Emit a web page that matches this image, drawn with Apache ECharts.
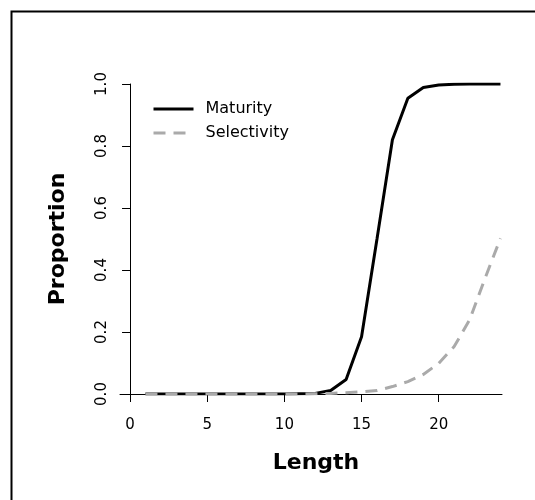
<!DOCTYPE html>
<html>
<head>
<meta charset="utf-8">
<script src="https://cdn.jsdelivr.net/npm/echarts@6/dist/echarts.min.js"></script>
<style>
html,body{margin:0;padding:0;background:#fff;}
#c{width:535px;height:500px;}
</style>
</head>
<body>
<div id="c"></div>
<script>
const lengths = [1,2,3,4,5,6,7,8,9,10,11,12,13,14,15,16,17,18,19,20,21,22,23,24];
const maturity = [0,0,0,0,0,0,0,0,0,0,0.001,0.002,0.011,0.047,0.185,0.5,0.82,0.954,0.989,0.997,0.999,1,1,1];
const selectivity = [0,0,0,0,0,0,0,0,0,0,0,0.001,0.002,0.004,0.007,0.011,0.024,0.04,0.063,0.099,0.153,0.239,0.373,0.502];
const xTicks = [0,5,10,15,20];
const yTicks = [0,0.2,0.4,0.6,0.8,1.0];

const FONT = 'DejaVu Sans';
const chart = echarts.init(document.getElementById('c'), null, {renderer:'canvas'});
chart.setOption({
  animation:false,
  backgroundColor:'#fff',
  textStyle:{fontFamily:FONT},
  graphic:[{type:'rect', left:9, top:9, shape:{width:1000,height:1000}, style:{fill:'none', stroke:'#000', lineWidth:2}, silent:true}],
  grid:{left:120, right:33, top:84, bottom:106, containLabel:false},
  legend:{
    orient:'vertical', left:147, top:96, itemWidth:40, itemHeight:16, itemGap:8,
    itemStyle:{opacity:0},
    lineStyle:{width:3},
    textStyle:{fontFamily:FONT, fontSize:16, color:'#000', padding:[0,0,0,7]},
    data:['Maturity','Selectivity']
  },
  xAxis:{
    type:'value', min:-0.65, max:24.1,
    axisLine:{onZero:false, lineStyle:{color:'#000', width:1}},
    axisTick:{show:true, customValues:xTicks, length:8, lineStyle:{color:'#000'}},
    axisLabel:{customValues:xTicks, margin:24, fontSize:15, color:'#000', fontFamily:FONT},
    splitLine:{show:false},
    name:'Length', nameLocation:'middle', nameGap:58,
    nameTextStyle:{fontSize:22, fontWeight:'bold', color:'#000', fontFamily:FONT, padding:[0,0,0,10]}
  },
  yAxis:{
    type:'value', min:0, max:1,
    axisLine:{show:true, onZero:true, lineStyle:{color:'#000', width:1}},
    axisTick:{show:true, customValues:yTicks, length:8, lineStyle:{color:'#000'}},
    axisLabel:{customValues:yTicks, rotate:90, margin:10, fontSize:15, color:'#000', fontFamily:FONT,
      formatter:function(v){return v.toFixed(1);}},
    splitLine:{show:false},
    name:'Proportion', nameLocation:'middle', nameGap:51,
    nameTextStyle:{fontSize:22, fontWeight:'bold', color:'#000', fontFamily:FONT}
  },
  series:[
    {name:'Maturity', type:'line', data:lengths.map((x,i)=>[x,maturity[i]]), symbol:'none',
     lineStyle:{color:'#000', width:3}, itemStyle:{color:'#000'}},
    {name:'Selectivity', type:'line', data:lengths.map((x,i)=>[x,selectivity[i]]), symbol:'none',
     lineStyle:{color:'#aaaaaa', width:3, type:[12,8]}, itemStyle:{color:'#aaaaaa'}}
  ]
});
</script>
</body>
</html>
